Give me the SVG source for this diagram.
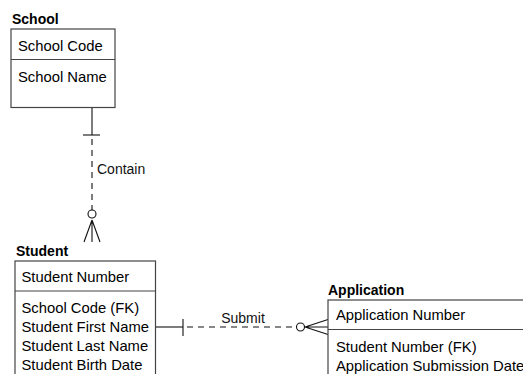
<svg xmlns="http://www.w3.org/2000/svg" width="523" height="374" viewBox="0 0 523 374">
  <style>
    .title { font-family: "Liberation Sans", Arial, sans-serif; font-size: 14px; font-weight: bold; fill: #000; }
    .attr { font-family: "Liberation Sans", Arial, sans-serif; font-size: 14.8px; fill: #000; }
    .lbl { font-family: "Liberation Sans", Arial, sans-serif; font-size: 14px; fill: #111; }
    .box { fill: #fff; stroke: #444; stroke-width: 1.2; }
    .div { stroke: #444; stroke-width: 1.2; }
    .solid { stroke: #111; stroke-width: 1.1; fill: none; }
    .dash { stroke: #111; stroke-width: 1.1; fill: none; stroke-dasharray: 6 5; }
    .ring { fill: #fff; stroke: #111; stroke-width: 1.1; }
  </style>
  <rect width="523" height="374" fill="#fff"/>

  <g id="connectors">
    <!-- School to Student: one-and-only-one to zero-or-many -->
    <line class="solid" x1="92" y1="108" x2="92" y2="135"/>
    <line class="solid" x1="83" y1="135" x2="100" y2="135" stroke="#555"/>
    <line class="dash" x1="92" y1="139" x2="92" y2="210"/>
    <circle class="ring" cx="92" cy="214" r="4"/>
    <path class="solid" d="M92 220 L92 242 M92 220 L84 242 M92 220 L100 242"/>
    <text class="lbl" x="97" y="174">Contain</text>

    <!-- Student to Application: one-and-only-one to zero-or-many -->
    <line class="solid" x1="156" y1="327" x2="183" y2="327"/>
    <line class="solid" x1="183" y1="319" x2="183" y2="336"/>
    <line class="dash" x1="187" y1="327" x2="296" y2="327"/>
    <circle class="ring" cx="300.5" cy="327" r="4"/>
    <path class="solid" d="M305 327 L328 327 M305 327 L328 319.5 M305 327 L328 334.5"/>
    <text class="lbl" x="243" y="323" text-anchor="middle">Submit</text>
  </g>

  <g id="school">
    <text class="title" x="12" y="24">School</text>
    <rect class="box" x="11" y="29" width="104" height="78.5"/>
    <line class="div" x1="11" y1="59.5" x2="115" y2="59.5"/>
    <text class="attr" x="18" y="51">School Code</text>
    <text class="attr" x="18" y="82">School Name</text>
  </g>

  <g id="student">
    <text class="title" x="16" y="256">Student</text>
    <rect class="box" x="15" y="261" width="140.5" height="130"/>
    <line class="div" x1="15" y1="291" x2="155.5" y2="291"/>
    <text class="attr" x="21.5" y="282">Student Number</text>
    <text class="attr" x="21.5" y="313">School Code (FK)</text>
    <text class="attr" x="21.5" y="332">Student First Name</text>
    <text class="attr" x="21.5" y="351">Student Last Name</text>
    <text class="attr" x="21.5" y="370">Student Birth Date</text>
  </g>

  <g id="application">
    <text class="title" x="328" y="295">Application</text>
    <rect class="box" x="328" y="300" width="230" height="100"/>
    <line class="div" x1="328" y1="329.5" x2="558" y2="329.5"/>
    <text class="attr" x="336" y="320">Application Number</text>
    <text class="attr" x="336" y="352">Student Number (FK)</text>
    <text class="attr" x="336" y="371">Application Submission Date</text>
  </g>
</svg>
